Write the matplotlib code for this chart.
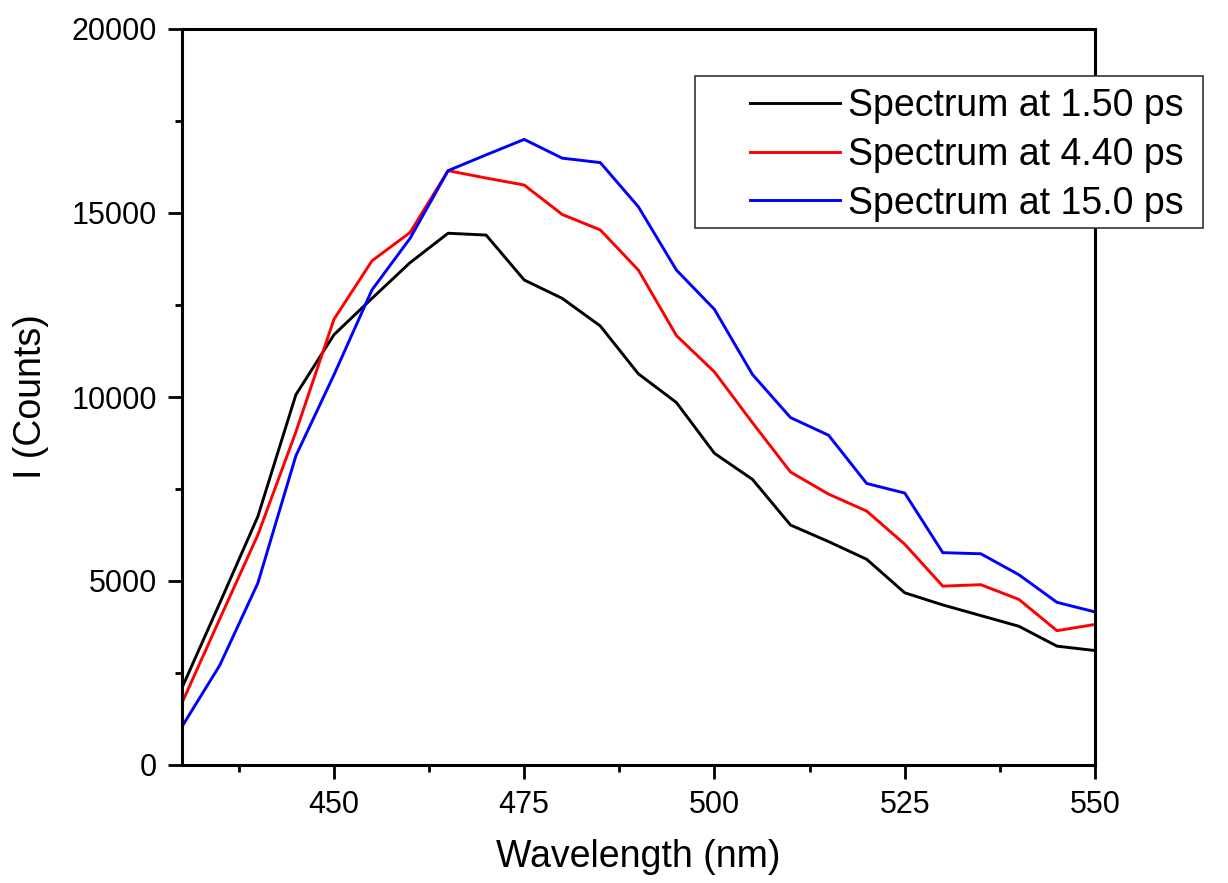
import matplotlib
matplotlib.use("Agg")
import matplotlib.pyplot as plt
from matplotlib.ticker import MultipleLocator
from matplotlib.patches import Rectangle

plt.rcParams['font.family'] = ['Liberation Sans', 'DejaVu Sans']

# wavelength grid (nm) and intensities
wavelength = [430, 435, 440, 445, 450, 455, 460, 465, 470, 475, 480, 485, 490,
              495, 500, 505, 510, 515, 520, 525, 530, 535, 540, 545, 550]

spec_150 = [2080, 4400, 6750, 10060, 11690, 12680, 13650, 14450, 14400, 13180,
            12680, 11930, 10630, 9850, 8470, 7760, 6520, 6070, 5590, 4680,
            4350, 4060, 3770, 3230, 3110]

spec_440 = [1670, 3970, 6250, 9050, 12110, 13700, 14470, 16150, 15950, 15760,
            14960, 14540, 13450, 11670, 10680, 9300, 7960, 7360, 6900, 6000,
            4860, 4900, 4500, 3650, 3820]

spec_150ps = [1030, 2710, 4940, 8400, 10600, 12910, 14310, 16150, 16580, 17000,
              16490, 16370, 15170, 13450, 12380, 10610, 9440, 8960, 7650, 7390,
              5770, 5740, 5170, 4420, 4160]

labels = ["Spectrum at 1.50 ps", "Spectrum at 4.40 ps", "Spectrum at 15.0 ps"]
colors = ["black", "red", "blue"]

W, H = 1228, 883
fig = plt.figure(figsize=(W / 100, H / 100), dpi=100)
ax = fig.add_axes([181.7 / W, 1 - 765 / H, (1095 - 181.7) / W, (765 - 29) / H])

for y, lab, c in zip([spec_150, spec_440, spec_150ps], labels, colors):
    ax.plot(wavelength, y, color=c, lw=2.1, label=lab)

ax.set_xlim(430, 550)
ax.set_ylim(0, 20000)
ax.xaxis.set_major_locator(MultipleLocator(25))
ax.xaxis.set_minor_locator(MultipleLocator(12.5))
ax.yaxis.set_major_locator(MultipleLocator(5000))
ax.yaxis.set_minor_locator(MultipleLocator(2500))

for s in ax.spines.values():
    s.set_linewidth(2.2)
ax.tick_params(which='major', direction='out', length=10, width=2.0,
               labelsize=22, pad=8, top=False, right=False)
ax.tick_params(which='minor', direction='out', length=5, width=2.0,
               top=False, right=False)

ax.set_xlabel("Wavelength (nm)", fontsize=27, labelpad=14)
ax.set_ylabel("I (Counts)", fontsize=27, labelpad=16)

# Origin-style legend box, sticking out past the right spine
fig.patches.append(Rectangle((695 / W, 1 - 228 / H), (1203 - 695) / W, (228 - 76) / H,
                             transform=fig.transFigure, facecolor='white',
                             edgecolor='#333333', lw=1.2, zorder=5))
leg = fig.legend(loc='upper left', bbox_to_anchor=(720 / W, 1 - 58 / H),
                 frameon=False, fontsize=27, handlelength=2.4,
                 handletextpad=0.2, labelspacing=0.34, borderpad=0.3)
leg.set_zorder(6)

fig.savefig("out.png", dpi=100)
